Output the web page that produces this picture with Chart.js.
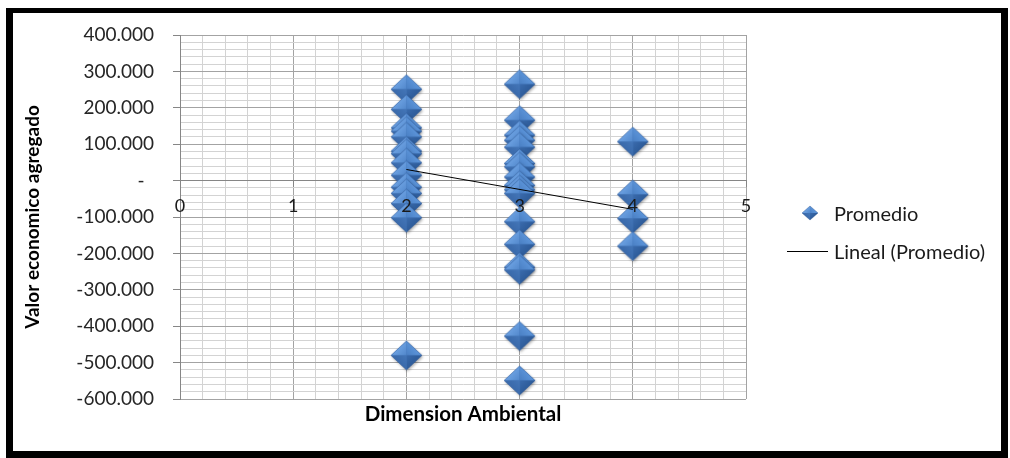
<!DOCTYPE html>
<html>
<head>
<meta charset="utf-8">
<script src="https://cdn.jsdelivr.net/npm/chart.js@4.4.1/dist/chart.umd.min.js"></script>
<style>
  html, body { margin: 0; padding: 0; background: #fff; }
  #wrap { position: relative; width: 1010px; height: 458px; overflow: hidden; background: #fff; }
  #c { position: absolute; left: 0; top: 0; }
  #frame { position: absolute; left: 6px; top: 8px; width: 1002px; height: 450px; box-sizing: border-box;
           border-style: solid; border-color: #000; border-width: 5px 7px 7px 7px; pointer-events: none; }
  #legend { position: absolute; left: 787px; top: 203px; font-family: Lato, "Open Sans", sans-serif;
            font-size: 20px; color: #1a1a1a; }
  #legend .item { display: flex; align-items: center; height: 20px; line-height: 20px; margin-bottom: 18px; white-space: nowrap; }
  #legend .mark { width: 41px; height: 20px; display: flex; align-items: center; justify-content: center; margin-right: 6px; }
  #legend .mark canvas { display: block; margin-left: 5px; }
  #legend .line { display: block; width: 41px; height: 0; border-top: 1px solid #000; }
</style>
</head>
<body>
<div id="wrap">
  <canvas id="c" width="1010" height="458"></canvas>
  <div id="legend"></div>
  <div id="frame"></div>
</div>
<script>
// Dimension ambiental categories and the "Promedio" values observed at each one
const dimensionCategories = [2, 3, 4];
const promedioDim2 = [251000, 196000, 145000, 136000, 120000, 81000, 74000, 49000, 15000,
                      -18000, -35000, -63000, -102000, -480000];
const promedioDim3 = [265000, 166000, 125000, 111000, 92000, 47000, 38000, 10000, -13000,
                      -25000, -35000, -113000, -175000, -238000, -245000, -427000, -549000];
const promedioDim4 = [107000, -38000, -104000, -180000];

// Linear trend of Promedio (endpoints at the first and last category)
const trendX = [2, 4];
const trendY = [30500, -79000];

// Axis ranges and steps (major / minor)
const xRange = [0, 5];
const xSteps = [1, 0.2];
const yRange = [-600000, 400000];
const ySteps = [100000, 20000];

const promedioGroups = [promedioDim2, promedioDim3, promedioDim4];
const promedioPoints = [];
promedioGroups.forEach((vals, i) => {
  vals.forEach(v => promedioPoints.push({ x: dimensionCategories[i], y: v }));
});
const trendPoints = trendX.map((x, i) => ({ x: x, y: trendY[i] }));

// Bevelled blue diamond marker
function bevelDiamond(w, h, shadow) {
  const pad = 3;
  const cv = document.createElement('canvas');
  cv.width = Math.ceil(w + pad * 2);
  cv.height = Math.ceil(h + pad * 2);
  const g = cv.getContext('2d');
  const cx = cv.width / 2, cy = cv.height / 2, rx = w / 2, ry = h / 2;
  const T = [cx, cy - ry], R = [cx + rx, cy], B = [cx, cy + ry], L = [cx - rx, cy], C = [cx, cy];
  const outline = () => {
    g.beginPath(); g.moveTo(T[0], T[1]); g.lineTo(R[0], R[1]); g.lineTo(B[0], B[1]); g.lineTo(L[0], L[1]); g.closePath();
  };
  if (shadow) {
    g.save();
    g.shadowColor = 'rgba(0,0,0,0.35)'; g.shadowBlur = 3; g.shadowOffsetX = 1; g.shadowOffsetY = 1.5;
    outline(); g.fillStyle = '#3f72b4'; g.fill();
    g.restore();
  }
  const facet = (a, b, c0, c1) => {
    g.beginPath(); g.moveTo(C[0], C[1]); g.lineTo(a[0], a[1]); g.lineTo(b[0], b[1]); g.closePath();
    const gr = g.createLinearGradient((a[0] + b[0]) / 2, (a[1] + b[1]) / 2, C[0], C[1]);
    gr.addColorStop(0, c0); gr.addColorStop(1, c1);
    g.fillStyle = gr; g.fill();
  };
  facet(L, T, '#6a9fe0', '#5288cc');
  facet(T, R, '#5b93d8', '#4a80c4');
  facet(R, B, '#2e5c9a', '#3b6cae');
  facet(B, L, '#3a6aab', '#4476b8');
  outline(); g.strokeStyle = 'rgba(40,80,140,0.55)'; g.lineWidth = 0.7; g.stroke();
  return cv;
}
const bigDiamond = bevelDiamond(31, 29, true);

const isMajorX = v => Math.abs(v / xSteps[0] - Math.round(v / xSteps[0])) < 1e-6;
const isMajorY = v => Math.abs(v % ySteps[0]) < 1e-6;

function formatMiles(v) {
  if (v === 0) return '-\u2002';
  const s = Math.abs(Math.round(v)).toString().replace(/\B(?=(\d{3})+(?!\d))/g, '.');
  return (v < 0 ? '-' : '') + s;
}

const MAJOR = '#a3a3a3';
const MINOR = '#d3d3d3';
const AXIS = '#868686';
const FONT = 'Lato, "Open Sans", sans-serif';

// Legend rendered next to the canvas from the chart's own legend items
const htmlLegend = {
  id: 'htmlLegend',
  afterUpdate(chart) {
    const box = document.getElementById('legend');
    box.innerHTML = '';
    const items = Chart.defaults.plugins.legend.labels.generateLabels(chart)
      .sort((a, b) => a.datasetIndex - b.datasetIndex);
    items.forEach(item => {
      const ds = chart.data.datasets[item.datasetIndex];
      const row = document.createElement('div');
      row.className = 'item';
      const mark = document.createElement('span');
      mark.className = 'mark';
      if (ds.showLine) {
        const ln = document.createElement('span');
        ln.className = 'line';
        ln.style.borderTopColor = ds.borderColor;
        mark.appendChild(ln);
      } else {
        mark.appendChild(bevelDiamond(16, 14, false));
      }
      const txt = document.createElement('span');
      txt.textContent = item.text;
      row.appendChild(mark);
      row.appendChild(txt);
      box.appendChild(row);
    });
  }
};

new Chart(document.getElementById('c'), {
  type: 'scatter',
  data: {
    datasets: [
      {
        label: 'Promedio',
        data: promedioPoints,
        pointStyle: bigDiamond,
        pointRadius: 15,
        backgroundColor: '#4a7ebf',
        borderColor: '#4a7ebf',
        order: 2
      },
      {
        label: 'Lineal (Promedio)',
        data: trendPoints,
        showLine: true,
        borderColor: '#000',
        backgroundColor: '#000',
        borderWidth: 1,
        pointRadius: 0,
        order: 1
      }
    ]
  },
  plugins: [htmlLegend],
  options: {
    responsive: false,
    animation: false,
    events: [],
    layout: { padding: { left: 16, right: 264, top: 35, bottom: 26.4 } },
    scales: {
      x: {
        type: 'linear',
        position: { y: 0 },
        min: xRange[0],
        max: xRange[1],
        grid: {
          color: c => isMajorX(c.tick.value) ? MAJOR : MINOR,
          tickColor: c => isMajorX(c.tick.value) ? AXIS : 'rgba(0,0,0,0)',
          tickLength: 6
        },
        border: { display: true, color: AXIS },
        ticks: {
          stepSize: xSteps[1],
          autoSkip: false,
          maxRotation: 0,
          padding: 9,
          z: 1,
          color: '#1a1a1a',
          font: { family: FONT, size: 18 },
          callback: v => isMajorX(v) ? String(Math.round(v)) : ''
        }
      },
      xTitle: {
        type: 'linear',
        axis: 'x',
        position: 'bottom',
        display: true,
        grid: { display: false, drawTicks: false },
        border: { display: false },
        ticks: { display: false },
        title: {
          display: true,
          text: 'Dimension Ambiental',
          color: '#000',
          font: { family: FONT, size: 20.5, weight: 'bold' },
          padding: { top: 3, bottom: 5 }
        }
      },
      y: {
        type: 'linear',
        position: 'left',
        min: yRange[0],
        max: yRange[1],
        afterFit: s => { s.width = 164; },
        grid: {
          color: c => isMajorY(c.tick.value) ? MAJOR : MINOR,
          tickColor: c => isMajorY(c.tick.value) ? AXIS : 'rgba(0,0,0,0)',
          tickLength: 7
        },
        border: { display: true, color: AXIS },
        ticks: {
          stepSize: ySteps[1],
          autoSkip: false,
          padding: 19,
          color: '#262626',
          font: { family: FONT, size: 19 },
          callback: v => isMajorY(v) ? formatMiles(v) : ''
        },
        title: {
          display: true,
          text: 'Valor economico agregado',
          color: '#000',
          font: { family: FONT, size: 19, weight: 'bold' },
          padding: { top: 5, bottom: 4 }
        }
      }
    },
    plugins: {
      tooltip: { enabled: false },
      title: { display: false },
      legend: { display: false }
    }
  }
});
</script>
</body>
</html>
